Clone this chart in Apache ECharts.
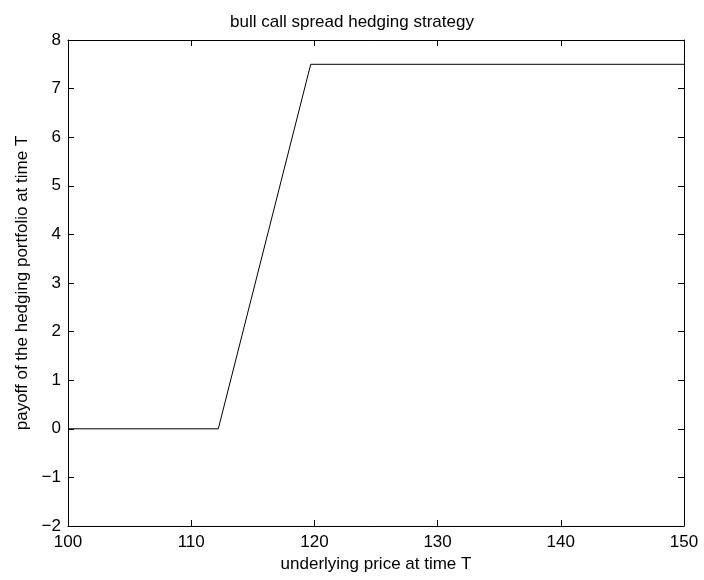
<!DOCTYPE html>
<html>
<head>
<meta charset="utf-8">
<script src="https://cdn.jsdelivr.net/npm/echarts@6/dist/echarts.min.js"></script>
<style>
  html, body { margin: 0; padding: 0; background: #fff; }
  #chart { width: 704px; height: 580px; }
</style>
</head>
<body>
<div id="chart"></div>
<script>
// Underlying price at expiry and the resulting payoff of the spread
const prices = [100, 112.2, 119.7, 150];
const payoff = [0, 0, 7.5, 7.5];

const xTicks = [100, 110, 120, 130, 140, 150];
const yTicks = [-2, -1, 0, 1, 2, 3, 4, 5, 6, 7, 8];

const titleText = 'bull call spread hedging strategy';
const xLabel = 'underlying price at time T';
const yLabel = 'payoff of the hedging portfolio at time T';

const font = 'Liberation Sans, Arial, sans-serif';
const fs = 17;
const fmt = v => (v < 0 ? '\u2212' + Math.abs(v) : String(v));

const chart = echarts.init(document.getElementById('chart'));

const axisLine = { show: true, onZero: false, lineStyle: { color: '#000', width: 1 } };
const tick = { show: true, inside: true, length: 6, lineStyle: { color: '#000' } };

chart.setOption({
  animation: false,
  backgroundColor: '#fff',
  title: {
    text: titleText,
    left: 'center',
    top: 9,
    textStyle: { fontFamily: font, fontSize: fs, fontWeight: 'normal', color: '#000' }
  },
  grid: { left: 68, right: 20, top: 40, bottom: 54 },
  xAxis: [
    {
      type: 'value', min: xTicks[0], max: xTicks[xTicks.length - 1], interval: 10,
      axisLine, axisTick: tick, splitLine: { show: false },
      axisLabel: { fontFamily: font, fontSize: fs, color: '#000', margin: 8, formatter: fmt },
      name: xLabel, nameLocation: 'middle', nameGap: 30,
      nameTextStyle: { fontFamily: font, fontSize: fs, color: '#000' }
    },
    {
      type: 'value', position: 'top', min: xTicks[0], max: xTicks[xTicks.length - 1], interval: 10,
      axisLine, axisTick: tick, axisLabel: { show: false }, splitLine: { show: false }
    }
  ],
  yAxis: [
    {
      type: 'value', min: yTicks[0], max: yTicks[yTicks.length - 1], interval: 1,
      axisLine, axisTick: tick, splitLine: { show: false },
      axisLabel: { fontFamily: font, fontSize: fs, color: '#000', margin: 7, formatter: fmt },
      name: yLabel, nameLocation: 'middle', nameGap: 34, nameRotate: 90,
      nameTextStyle: { fontFamily: font, fontSize: fs, color: '#000' }
    },
    {
      type: 'value', position: 'right', min: yTicks[0], max: yTicks[yTicks.length - 1], interval: 1,
      axisLine, axisTick: tick, axisLabel: { show: false }, splitLine: { show: false }
    }
  ],
  series: [{
    type: 'line',
    data: prices.map((p, i) => [p, payoff[i]]),
    showSymbol: false,
    lineStyle: { color: '#000', width: 1 },
    silent: true
  }]
});
</script>
</body>
</html>
